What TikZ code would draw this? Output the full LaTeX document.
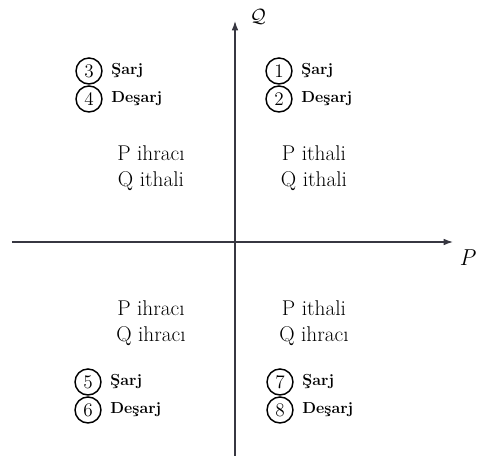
\documentclass[tikz,border=0pt]{standalone}
\usepackage{fontspec}
\usepackage{amsmath,amssymb}
\usetikzlibrary{arrows.meta,positioning}
\definecolor{AxisG}{RGB}{55,55,65}
\begin{document}
\begin{tikzpicture}[x=0.75pt,y=-0.75pt,
    numc/.style={circle,draw,line width=1.1pt,minimum size=19.5pt,inner sep=0pt,font=\Large},
    tag/.style={font=\large\bfseries,anchor=west},
    quad/.style={align=center,font=\fontsize{16}{19.5}\selectfont}]
  \useasboundingbox (0,0) rectangle (480,466);
  % axes
  \coordinate (xl) at (12,242);
  \coordinate (xr) at (453,242);
  \coordinate (yb) at (235,456);
  \coordinate (yt) at (235,21);
  \draw[-{Latex[length=7pt,width=5pt]},AxisG,line width=0.9pt] (xl)--(xr);
  \draw[-{Latex[length=7pt,width=5pt]},AxisG,line width=0.9pt] (yb)--(yt);
  \node[font=\LARGE\itshape] (plab) at (467,258) {P};
  \node[font=\Large,inner sep=1pt] (qlab) at (258,17) {$\mathcal{Q}$};
  % numbered modes
  \foreach \n/\x/\y/\t in {1/279/71/Şarj,2/279/99/Deşarj,
                           3/89/71/Şarj,4/89/99/Deşarj,
                           5/88/382/Şarj,6/88/410/Deşarj,
                           7/280/382/Şarj,8/280/410/Deşarj}{
    \node[numc] (c\n) at (\x,\y) {\n};
    \node[tag,right=3pt of c\n.east] (t\n) {\t};}
  % quadrant texts
  \node[quad] (q1) at (314,168) {P ithali\\Q ithali};
  \node[quad] (q2) at (151,168) {P ihracı\\Q ithali};
  \node[quad] (q3) at (151,323) {P ihracı\\Q ihracı};
  \node[quad] (q4) at (314,323) {P ithali\\Q ihracı};
\end{tikzpicture}
\end{document}
